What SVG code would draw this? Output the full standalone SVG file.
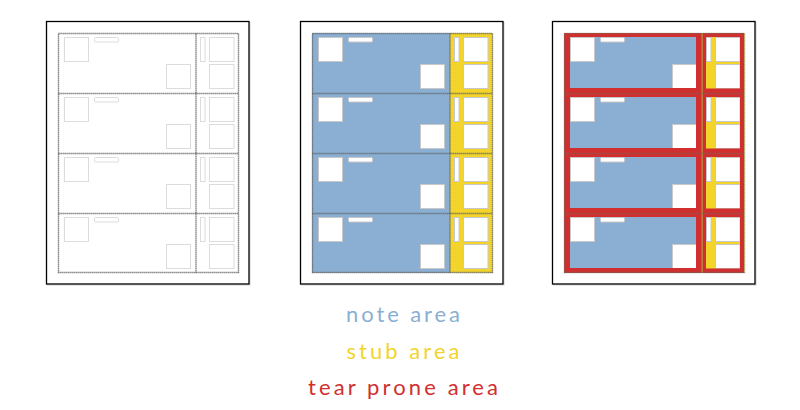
<svg xmlns="http://www.w3.org/2000/svg" xmlns:xlink="http://www.w3.org/1999/xlink" width="800" height="410" viewBox="0 0 800 410">
<style>
.frame{fill:#fff;stroke:#000;stroke-width:1.3}
.shadow{fill:none;stroke:#d0d0d0;stroke-width:1}
.ghost{fill:#fff;stroke:#dcdcdc;stroke-width:1}
.hole{fill:#fff;stroke:#c8c8c8;stroke-width:1}
.note{fill:#8aafd2}
.stub{fill:#f2d42b}
.tear{fill:#d12f2f}
.grid{fill:none;stroke:#666;stroke-width:1.4;stroke-dasharray:1.2 0.8}
.grid3{fill:none;stroke:#6b6b5a;stroke-width:1.4;stroke-dasharray:1.2 0.8;opacity:0.75}
.label{font-family:Lato,"Open Sans",sans-serif;font-size:22px;text-anchor:middle}
</style>
<defs>
<g id="shapes">
<rect x="64.5" y="4.5" width="24" height="24"/>
<rect x="94.5" y="4.5" width="24" height="4.5" rx="1"/>
<rect x="166.5" y="31.5" width="24" height="24"/>
<rect x="200.5" y="4.5" width="4.5" height="24"/>
<rect x="209.5" y="4.5" width="24.5" height="24"/>
<rect x="209.5" y="31.5" width="24.5" height="24"/>
</g>
<path id="tearframe" fill-rule="evenodd" d="M58,0H195.5V60H58Z M64,4H190V55H64Z M196.5,0H238V60H196.5Z M200,4H234V55.5H200Z"/>
<path id="gridlines" d="M58.5,33.5H238.5V272.5H58.5Z M196,33.5V272.5 M58.5,93.5H238.5 M58.5,153.5H238.5 M58.5,213.5H238.5"/>
</defs>

<g id="panel-layout">
<rect class="shadow" x="47.5" y="22.5" width="202.5" height="262.5"/>
<rect class="frame" x="46.5" y="21.5" width="202.5" height="262.5"/>
<use class="ghost" xlink:href="#shapes" href="#shapes" transform="translate(0,33)"/>
<use class="ghost" xlink:href="#shapes" href="#shapes" transform="translate(0,93)"/>
<use class="ghost" xlink:href="#shapes" href="#shapes" transform="translate(0,153)"/>
<use class="ghost" xlink:href="#shapes" href="#shapes" transform="translate(0,213)"/>
<use class="grid" xlink:href="#gridlines" href="#gridlines"/>
</g>

<g id="panel-areas" transform="translate(254,0)">
<rect class="shadow" x="47.5" y="22.5" width="202.5" height="262.5"/>
<rect class="frame" x="46.5" y="21.5" width="202.5" height="262.5"/>
<rect class="note" x="58" y="33" width="138" height="240"/>
<rect class="stub" x="196" y="33" width="42.5" height="240"/>
<use class="hole" xlink:href="#shapes" href="#shapes" transform="translate(0,33)"/>
<use class="hole" xlink:href="#shapes" href="#shapes" transform="translate(0,93)"/>
<use class="hole" xlink:href="#shapes" href="#shapes" transform="translate(0,153)"/>
<use class="hole" xlink:href="#shapes" href="#shapes" transform="translate(0,213)"/>
<use class="grid" xlink:href="#gridlines" href="#gridlines"/>
</g>

<g id="panel-tear" transform="translate(506,0)">
<rect class="shadow" x="47.5" y="22.5" width="202.5" height="262.5"/>
<rect class="frame" x="46.5" y="21.5" width="202.5" height="262.5"/>
<rect class="note" x="58" y="33" width="138" height="240"/>
<rect class="stub" x="196" y="33" width="42.5" height="240"/>
<use class="hole" xlink:href="#shapes" href="#shapes" transform="translate(0,33)"/>
<use class="hole" xlink:href="#shapes" href="#shapes" transform="translate(0,93)"/>
<use class="hole" xlink:href="#shapes" href="#shapes" transform="translate(0,153)"/>
<use class="hole" xlink:href="#shapes" href="#shapes" transform="translate(0,213)"/>
<use class="tear" xlink:href="#tearframe" href="#tearframe" transform="translate(0,33)"/>
<use class="tear" xlink:href="#tearframe" href="#tearframe" transform="translate(0,93)"/>
<use class="tear" xlink:href="#tearframe" href="#tearframe" transform="translate(0,153)"/>
<use class="tear" xlink:href="#tearframe" href="#tearframe" transform="translate(0,213)"/>
<use class="grid3" xlink:href="#gridlines" href="#gridlines"/>
</g>

<g id="legend">
<text class="label" x="403" y="322" fill="#8aafd2" textLength="114" lengthAdjust="spacing">note area</text>
<text class="label" x="403" y="359" fill="#f2d42b" textLength="113" lengthAdjust="spacing">stub area</text>
<text class="label" x="403" y="395" fill="#d12f2f" textLength="190" lengthAdjust="spacing">tear prone area</text>
</g>
</svg>
